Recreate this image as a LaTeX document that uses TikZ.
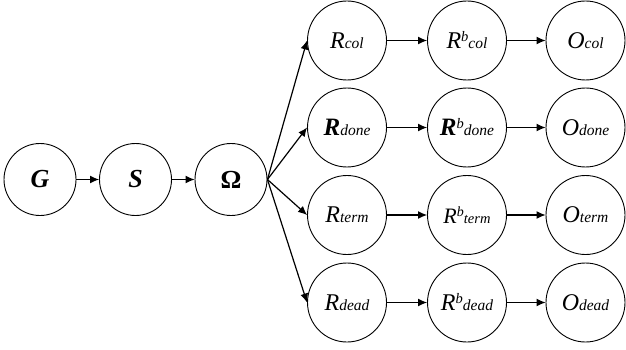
\documentclass[tikz,border=0pt]{standalone}
\usepackage{fontspec}
\setmainfont{Liberation Serif}
\usetikzlibrary{arrows.meta}
\newcommand{\mysz}[1]{\fontsize{#1}{#1}\selectfont}
\newcommand{\mymain}[1]{{\mysz{24}\itshape #1}}
\newcommand{\mybold}[1]{{\mysz{25}\bfseries\itshape #1}}
\newcommand{\mysub}[1]{{\mysz{15.5}\itshape #1}}
\newcommand{\mysup}{\raisebox{7pt}{\mysz{14.5}\itshape b}}
\begin{document}
\begin{tikzpicture}[x=1pt,y=-1pt,
  st/.style={circle,draw,line width=0.9pt,minimum size=72pt,inner sep=0pt},
  rt/.style={circle,draw,line width=0.9pt,minimum size=79pt,inner sep=0pt},
  arr/.style={line width=1.2pt,-{Latex[length=9pt,width=8pt]}}]
\useasboundingbox (0,0) rectangle (626,350);
\node[st] (G) at (40,179.5) {{\mysz{26}\bfseries\itshape G}};
\node[st] (S) at (135.5,179.5) {{\mysz{26}\bfseries\itshape S}};
\node[st] (W) at (231,179.5) {{\mysz{26}\bfseries Ω}};
% row 1
\node[rt] (R1) at (347,40.5) {\mymain{R}\mysub{col}};
\node[rt] (B1) at (467,40.5) {\mymain{R}\mysup\mysub{col}};
\node[rt] (O1) at (585.5,40.5) {\mymain{O}\mysub{col}};
% row 2
\node[rt] (R2) at (347,127.5) {\mybold{R}\mysub{done}};
\node[rt] (B2) at (467,127.5) {\mybold{R}\mysup\mysub{done}};
\node[rt] (O2) at (585.5,127.5) {\mymain{O}\mysub{done}};
% row 3
\node[rt] (R3) at (347,215) {\mymain{R}\mysub{term}};
\node[rt] (B3) at (467,215) {{\mysz{22}\itshape R}\raisebox{6.5pt}{\mysz{14}\itshape b}{\mysz{14.5}\itshape term}};
\node[rt] (O3) at (585.5,215) {\mymain{O}\mysub{term}};
% row 4
\node[rt] (R4) at (347,302.5) {\mymain{R}\mysub{dead}};
\node[rt] (B4) at (467,302.5) {\mymain{R}\mysup\mysub{dead}};
\node[rt] (O4) at (585.5,302.5) {\mymain{O}\mysub{dead}};
\draw[arr] (G) -- (S);
\draw[arr] (S) -- (W);
\foreach \i in {1,2,3,4}{
  \draw[arr] (W.east) -- (R\i.west);
  \draw[arr] (R\i) -- (B\i);
  \draw[arr] (B\i) -- (O\i);
}
\end{tikzpicture}
\end{document}
